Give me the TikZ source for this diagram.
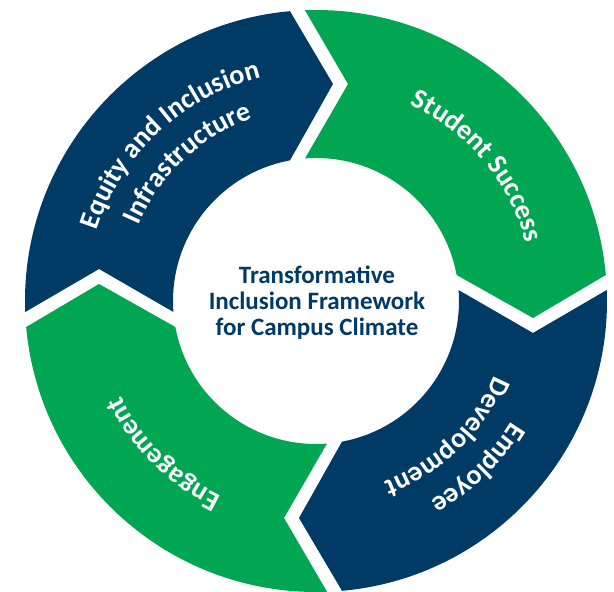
\documentclass[tikz,border=0pt]{standalone}
\usepackage{fontspec}
\setmainfont{Carlito}
\usetikzlibrary{decorations.text}
\definecolor{ringblue}{HTML}{003B65}
\definecolor{ringgreen}{HTML}{00A651}
\newcommand\segfont{\bfseries\fontsize{28}{34}\selectfont}
\tikzset{
  seglabel/.style={decorate, decoration={text along path, text align=center,
    text color=white, text={|\segfont|#1}}},
  hub/.style={align=center, text=ringblue, font=\bfseries\fontsize{25}{26}\selectfont}
}
\begin{document}
\begin{tikzpicture}[x=1pt, y=1pt]
\useasboundingbox (-316,-291) rectangle (298,301);
\fill[ringblue] (182.17:291) arc[start angle=182.17, end angle=95.13, radius=291] -- (85.52:217.7)
  -- (100.48:143) arc[start angle=100.48, end angle=184.41, radius=143] -- (171.61:219.3) -- cycle;
\fill[ringgreen] (92.17:291) arc[start angle=92.17, end angle=5.13, radius=291] -- (-4.48:217.7)
  -- (10.48:143) arc[start angle=10.48, end angle=94.41, radius=143] -- (81.61:219.3) -- cycle;
\fill[ringblue] (2.17:291) arc[start angle=2.17, end angle=-84.87, radius=291] -- (-94.48:217.7)
  -- (-79.52:143) arc[start angle=-79.52, end angle=4.41, radius=143] -- (-8.39:219.3) -- cycle;
\fill[ringgreen] (-87.83:291) arc[start angle=-87.83, end angle=-174.87, radius=291] -- (-184.48:217.7)
  -- (-169.52:143) arc[start angle=-169.52, end angle=-85.59, radius=143] -- (-98.39:219.3) -- cycle;
\path[seglabel={Equity and Inclusion}] (198:230) arc[start angle=198, end angle=68, radius=230];
\path[seglabel={Infrastructure}] (198:193) arc[start angle=198, end angle=68, radius=193];
\path[seglabel={Student Success}] (105:218) arc[start angle=105, end angle=-25, radius=218];
\path[seglabel={Employee}] (19:230) arc[start angle=19, end angle=-111, radius=230];
\path[seglabel={Development}] (19:193) arc[start angle=19, end angle=-111, radius=193];
\path[seglabel={Engagement}] (-70:217) arc[start angle=-70, end angle=-200, radius=217];
\node[hub] (hub) at (1,-2) {Transformative\\Inclusion Framework\\for Campus Climate};
\end{tikzpicture}
\end{document}
